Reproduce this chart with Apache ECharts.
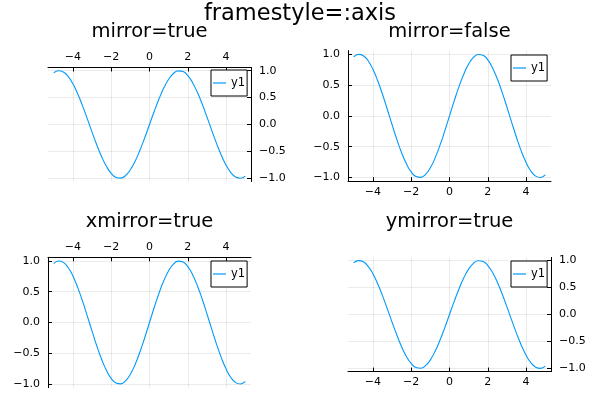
<!DOCTYPE html>
<html><head><meta charset="utf-8">
<script src="https://cdn.jsdelivr.net/npm/echarts@6/dist/echarts.min.js"></script>
<style>html,body{margin:0;padding:0;background:#fff}#c{width:600px;height:400px}</style>
</head><body><div id="c"></div>
<script>
const mainTitle = 'framestyle=:axis';
const subTitles = ['mirror=true', 'mirror=false', 'xmirror=true', 'ymirror=true'];
const seriesName = 'y1';
const xs = [-5,-4.75,-4.5,-4.25,-4,-3.75,-3.5,-3.25,-3,-2.75,-2.5,-2.25,-2,-1.75,-1.5,-1.25,-1,-0.75,-0.5,-0.25,0,
  0.25,0.5,0.75,1,1.25,1.5,1.75,2,2.25,2.5,2.75,3,3.25,3.5,3.75,4,4.25,4.5,4.75,5];
const ys = [0.9589,0.9993,0.9775,0.8950,0.7568,0.5716,0.3508,0.1082,-0.1411,-0.3817,-0.5985,-0.7781,-0.9093,-0.9840,-0.9975,-0.9490,-0.8415,-0.6816,-0.4794,-0.2474,0,
  0.2474,0.4794,0.6816,0.8415,0.9490,0.9975,0.9840,0.9093,0.7781,0.5985,0.3817,0.1411,-0.1082,-0.3508,-0.5716,-0.7568,-0.8950,-0.9775,-0.9993,-0.9589];
const xTicks = [-4, -2, 0, 2, 4];
const yTicks = [-1, -0.5, 0, 0.5, 1];

const font = 'DejaVu Sans';
const pts = xs.map((x, i) => [x, ys[i]]);
const minus = s => String(s).replace('-', '\u2212');

// layout: [left, top, width, height, xPos, yPos, titleY, legendLeft, legendTop]
const layouts = [
  [48, 67.5, 203, 114, 'top', 'right', 33, 211, 70],
  [348, 50.6, 203, 130.6, 'bottom', 'left', 33, 511, 55],
  [48, 257.3, 203, 130.4, 'top', 'left', 223, 211, 261],
  [348, 257.4, 203, 114.2, 'bottom', 'right', 223, 511, 261]
];

const option = {
  backgroundColor: '#fff',
  animation: false,
  title: [{
    text: mainTitle, left: 300, top: 3, textAlign: 'center', padding: 0,
    textStyle: { fontFamily: font, fontSize: 22.5, fontWeight: 'normal', color: '#000' }
  }].concat(layouts.map((l, i) => ({
    text: subTitles[i], left: l[0] + l[2] / 2, top: l[6] - 11, textAlign: 'center', padding: 0,
    textStyle: { fontFamily: font, fontSize: 19.5, fontWeight: 'normal', color: '#000' }
  }))),
  grid: layouts.map(l => ({ left: l[0], top: l[1], width: l[2], height: l[3], outerBoundsMode: 'none', containLabel: false })),
  xAxis: layouts.map((l, i) => ({
    type: 'value', gridIndex: i, min: -5.3, max: 5.3, position: l[4],
    axisLine: { show: true, onZero: false, lineStyle: { color: '#000', width: 1 } },
    axisTick: { show: true, inside: true, length: 4, customValues: xTicks, lineStyle: { color: '#000' } },
    axisLabel: { customValues: xTicks, formatter: v => minus(v), margin: 5, color: '#000', fontFamily: font, fontSize: 11 },
    splitLine: { show: true, lineStyle: { color: 'rgba(0,0,0,0.08)', width: 1 } }
  })),
  yAxis: layouts.map((l, i) => ({
    type: 'value', gridIndex: i, min: -1.06, max: 1.06, position: l[5],
    axisLine: { show: true, onZero: false, lineStyle: { color: '#000', width: 1 } },
    axisTick: { show: true, inside: true, length: 4, customValues: yTicks, lineStyle: { color: '#000' } },
    axisLabel: { customValues: yTicks, formatter: v => minus(v.toFixed(1)), margin: 8, color: '#000', fontFamily: font, fontSize: 11 },
    splitLine: { show: true, lineStyle: { color: 'rgba(0,0,0,0.08)', width: 1 } }
  })),
  legend: layouts.map(l => ({
    data: [{ name: seriesName, icon: 'rect' }], left: l[7], top: l[8], orient: 'vertical',
    padding: [7, 2, 7, 2], itemWidth: 13, itemHeight: 1.2,
    itemStyle: { color: '#009AFA' },
    borderColor: '#000', borderWidth: 1, borderRadius: 0, backgroundColor: '#fff',
    textStyle: { fontFamily: font, fontSize: 11.5, color: '#000' }, selectedMode: false
  })),
  series: layouts.map((l, i) => ({
    name: seriesName, type: 'line', xAxisIndex: i, yAxisIndex: i, data: pts,
    smooth: true, symbol: 'none', lineStyle: { color: '#009AFA', width: 1.1 }, itemStyle: { color: '#009AFA' }
  }))
};
echarts.init(document.getElementById('c'), null, { renderer: 'canvas' }).setOption(option);
</script></body></html>
